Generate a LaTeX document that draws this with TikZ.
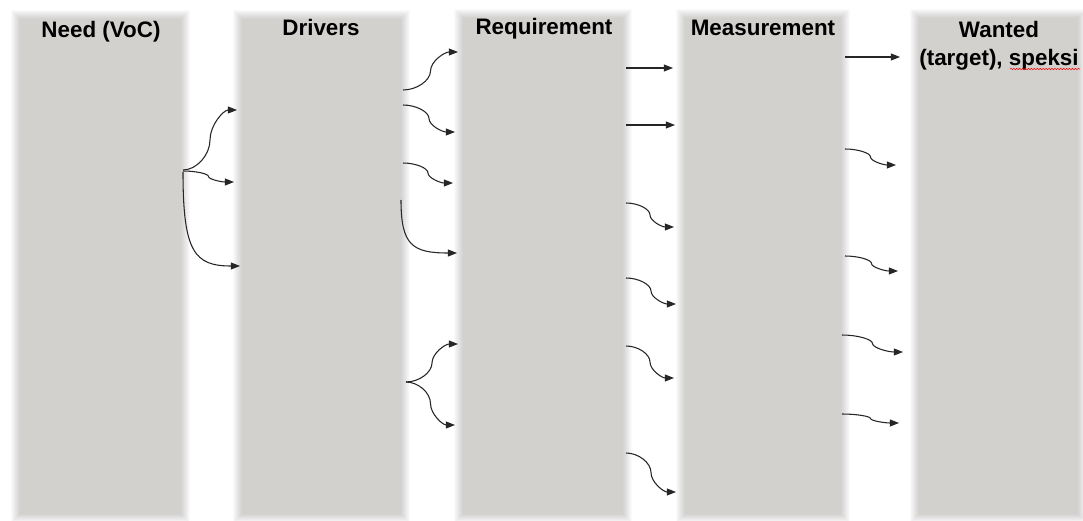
\documentclass[tikz,border=0pt]{standalone}
\usepackage{fontspec}
\setmainfont{Liberation Sans}
\usetikzlibrary{arrows.meta,calc,decorations.pathmorphing}

\definecolor{colgray}{RGB}{211,209,206}
\definecolor{linkgray}{RGB}{38,38,38}

\tikzset{
  colcore/.style={fill=colgray, draw=none, inner sep=0pt, outer sep=0pt},
  title/.style={font=\bfseries\fontsize{16.8}{21}\selectfont, anchor=base, inner sep=0pt, text=black},
  link/.style={draw=linkgray, line width=0.8pt, -{Triangle[length=6.8pt,width=5.2pt]}},
  % S-shaped connector: horizontal at both ends, vertical in the middle
  scurve/.style={to path={let \p1=(\tikztostart), \p2=(\tikztotarget) in
     .. controls ({0.75*\x1+0.25*\x2},\y1) and ({0.5*\x1+0.5*\x2},{0.75*\y1+0.25*\y2})
     .. ({0.5*\x1+0.5*\x2},{0.5*\y1+0.5*\y2})
     .. controls ({0.5*\x1+0.5*\x2},{0.25*\y1+0.75*\y2}) and ({0.25*\x1+0.75*\x2},\y2)
     .. (\tikztotarget)}},
  % connector leaving downwards and arriving horizontally
  dcurve/.style={to path={let \p1=(\tikztostart), \p2=(\tikztotarget) in
     .. controls (\x1,{0.15*\y1+0.85*\y2}) and ({0.8*\x1+0.2*\x2},\y2) .. (\tikztotarget)}},
}

% column with a soft edge: #1 name, #2 left, #3 top, #4 right, #5 bottom (px)
% nine translucent rings give a linear fade, the opaque core closes it
\newcommand{\softcolumn}[5]{%
  \foreach \i [evaluate=\i as \op using 1/(11-\i), evaluate=\i as \d using 5.5-\i] in {1,...,9}{%
    \fill[colgray, fill opacity=\op] (#2-\d,#3-\d) rectangle (#4+\d,#5+\d);
  }%
  \node[colcore, minimum width={(#4-#2-9)*0.75pt}, minimum height={(#5-#3-9)*0.75pt}]
    (#1) at ({(#2+#4)/2},{(#3+#5)/2}) {};
}

\begin{document}
\begin{tikzpicture}[x=0.75pt, y=-0.75pt]
  \useasboundingbox (0,0) rectangle (1083,521);
  \fill[white] (0,0) rectangle (1083,521);

  % columns
  \softcolumn{need}{15}{14}{185}{518}
  \softcolumn{drv}{237}{14}{405}{518}
  \softcolumn{req}{458}{13}{627}{518}
  \softcolumn{meas}{680}{13}{845}{518}
  \softcolumn{want}{914}{13}{1082}{518}

  % headings
  \node[title] (tneed) at (101,37) {Need (VoC)};
  \node[title] (tdrv)  at (321,36) {Drivers};
  \node[title] (treq)  at (544,35) {Requirement};
  \node[title] (tmeas) at (763,36) {Measurement};
  \node[title] (twant) at (999,37) {Wanted};
  \node[title] (tspec) at (999,65) {(target), speksi};
  \coordinate (spellA) at (1010,69);
  \coordinate (spellB) at (1080,69);
  \draw[red, line width=0.4pt, decorate,
        decoration={snake, amplitude=0.5pt, segment length=2.2pt}] (spellA) -- (spellB);

  % connector end points: Need -> Drivers
  \coordinate (a0) at (183,170);
  \coordinate (a1) at (237,110);
  \coordinate (a2s) at (183,171);
  \coordinate (a2) at (234,182);
  \coordinate (a3s) at (183,172);
  \coordinate (a3) at (240,266);
  % Drivers -> Requirement
  \coordinate (b1s) at (403,90);   \coordinate (b1) at (458,52);
  \coordinate (b2s) at (403,105);  \coordinate (b2) at (455,132);
  \coordinate (b3s) at (403,163);  \coordinate (b3) at (453,183);
  \coordinate (b4s) at (401,200);  \coordinate (b4) at (457,253);
  \coordinate (b5s) at (406,382);  \coordinate (b5) at (458,344);
  \coordinate (b6) at (455,425);
  % Requirement -> Measurement
  \coordinate (c1s) at (626,68);   \coordinate (c1) at (673,68);
  \coordinate (c2s) at (626,125);  \coordinate (c2) at (675,125);
  \coordinate (c3s) at (626,203);  \coordinate (c3) at (674,227);
  \coordinate (c4s) at (626,278);  \coordinate (c4) at (676,304);
  \coordinate (c5s) at (626,346);  \coordinate (c5) at (674,378);
  \coordinate (c6s) at (626,453);  \coordinate (c6) at (676,492);
  % Measurement -> Wanted
  \coordinate (d1s) at (845,57);   \coordinate (d1) at (900,57);
  \coordinate (d2s) at (845,149);  \coordinate (d2) at (896,165);
  \coordinate (d3s) at (845,256);  \coordinate (d3) at (898,271);
  \coordinate (d4s) at (842,335);  \coordinate (d4) at (903,352);
  \coordinate (d5s) at (842,414);  \coordinate (d5) at (899,423);

  % connectors
  \draw[link] (a0) to[scurve] (a1);
  \draw[link] (a2s) to[scurve] (a2);
  \draw[link] (a3s) to[dcurve] (a3);

  \draw[link] (b1s) to[scurve] (b1);
  \draw[link] (b2s) to[scurve] (b2);
  \draw[link] (b3s) to[scurve] (b3);
  \draw[link] (b4s) to[dcurve] (b4);
  \draw[link] (b5s) to[scurve] (b5);
  \draw[link] (b5s) to[scurve] (b6);

  \draw[link] (c1s) -- (c1);
  \draw[link] (c2s) -- (c2);
  \draw[link] (c3s) to[scurve] (c3);
  \draw[link] (c4s) to[scurve] (c4);
  \draw[link] (c5s) to[scurve] (c5);
  \draw[link] (c6s) to[scurve] (c6);

  \draw[link] (d1s) -- (d1);
  \draw[link] (d2s) to[scurve] (d2);
  \draw[link] (d3s) to[scurve] (d3);
  \draw[link] (d4s) to[scurve] (d4);
  \draw[link] (d5s) to[scurve] (d5);
\end{tikzpicture}
\end{document}
